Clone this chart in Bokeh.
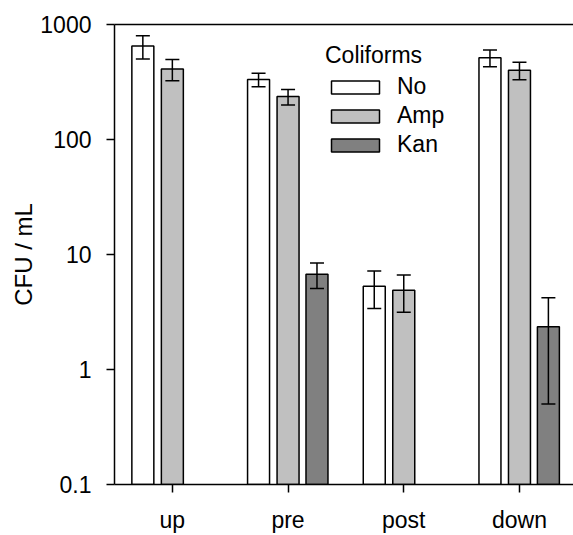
import math
from bokeh.plotting import figure
from bokeh.models import (ColumnDataSource, Range1d, FixedTicker, Whisker, TeeHead,
                          Legend, LegendItem, LinearAxis)
from bokeh.embed import file_html
from bokeh.resources import INLINE

categories = ["up", "pre", "post", "down"]
series = ["No", "Amp", "Kan"]
no_vals = [650, 332, 5.3, 515]
no_err = [150, 45, 1.9, 85]
amp_vals = [410, 236, 4.9, 400]
amp_err = [85, 36, 1.75, 70]
kan_vals = [math.nan, 6.75, math.nan, 2.35]
kan_err = [math.nan, 1.7, math.nan, 1.85]
y_ticks = [0.1, 1, 10, 100, 1000]
y_tick_labels = ["0.1", "1", "10", "100", "1000"]

colors = {"No": "#ffffff", "Amp": "#c0c0c0", "Kan": "#808080"}
offsets = {"No": -0.255, "Amp": 0.0, "Kan": 0.25}
FONT = "Liberation Sans"

p = figure(width=573, height=535, x_range=Range1d(-0.5, 3.467), y_range=Range1d(0.1, 1000),
           y_axis_type="log", output_backend="svg", toolbar_location=None,
           min_border_left=114, min_border_right=0, min_border_top=24, min_border_bottom=49)
p.outline_line_color = None
p.grid.grid_line_color = None
p.background_fill_color = "white"
p.border_fill_color = "white"

renderers = {}
for name, vals, errs in [("No", no_vals, no_err), ("Amp", amp_vals, amp_err), ("Kan", kan_vals, kan_err)]:
    xs, tops, ups, lows = [], [], [], []
    for i, (v, e) in enumerate(zip(vals, errs)):
        if v is None or (isinstance(v, float) and math.isnan(v)):
            continue
        xs.append(i + offsets[name])
        tops.append(v)
        ups.append(v + e)
        lows.append(v - e)
    src = ColumnDataSource(dict(x=xs, top=tops, upper=ups, lower=lows))
    r = p.vbar(x="x", top="top", bottom=0.1, width=0.19, source=src,
               fill_color=colors[name], line_color="black", line_width=1.5)
    renderers[name] = r
    w = Whisker(source=src, base="x", upper="upper", lower="lower", line_width=1.5,
                line_color="black", level="overlay",
                upper_head=TeeHead(size=14, line_width=1.5, line_color="black"),
                lower_head=TeeHead(size=14, line_width=1.5, line_color="black"))
    p.add_layout(w)

# bottom and left axes
xax = p.below[0]
yax = p.left[0]
xax.ticker = FixedTicker(ticks=list(range(len(categories))))
xax.major_label_overrides = {i: c for i, c in enumerate(categories)}
yax.ticker = FixedTicker(ticks=y_ticks, minor_ticks=[])
yax.major_label_overrides = dict(zip(y_ticks, y_tick_labels))
yax.axis_label = "CFU / mL"
for ax in [xax, yax]:
    ax.axis_line_width = 1.5
    ax.axis_line_color = "black"
    ax.major_tick_line_width = 1.5
    ax.major_tick_line_color = "black"
    ax.major_tick_out = 8
    ax.major_tick_in = 0
    ax.minor_tick_line_color = None
    ax.major_label_text_font = FONT
    ax.major_label_text_font_size = "23px"
    ax.major_label_text_color = "black"
    ax.axis_label_text_font = FONT
    ax.axis_label_text_font_size = "24px"
    ax.axis_label_text_font_style = "normal"
    ax.axis_label_text_color = "black"
xax.major_label_standoff = 14
yax.major_label_standoff = 15
yax.axis_label_standoff = 0

# top frame line (axis with no ticks and no labels)
top_axis = LinearAxis(ticker=FixedTicker(ticks=[], minor_ticks=[]),
                      major_tick_line_color=None, minor_tick_line_color=None,
                      axis_line_color="black", axis_line_width=1.5)
p.add_layout(top_axis, "above")

legend = Legend(items=[LegendItem(label=s, renderers=[renderers[s]]) for s in series],
                title="Coliforms", location=(211, 326),
                glyph_width=60, glyph_height=16, label_standoff=12,
                label_text_font=FONT, label_text_font_size="23px", label_text_color="black",
                title_text_font=FONT, title_text_font_size="23px", title_text_font_style="normal",
                title_text_color="black",
                title_standoff=4, spacing=2, padding=0, margin=0,
                border_line_color=None, background_fill_alpha=0)
p.add_layout(legend)

open("out.html", "w").write(file_html(p, INLINE))
